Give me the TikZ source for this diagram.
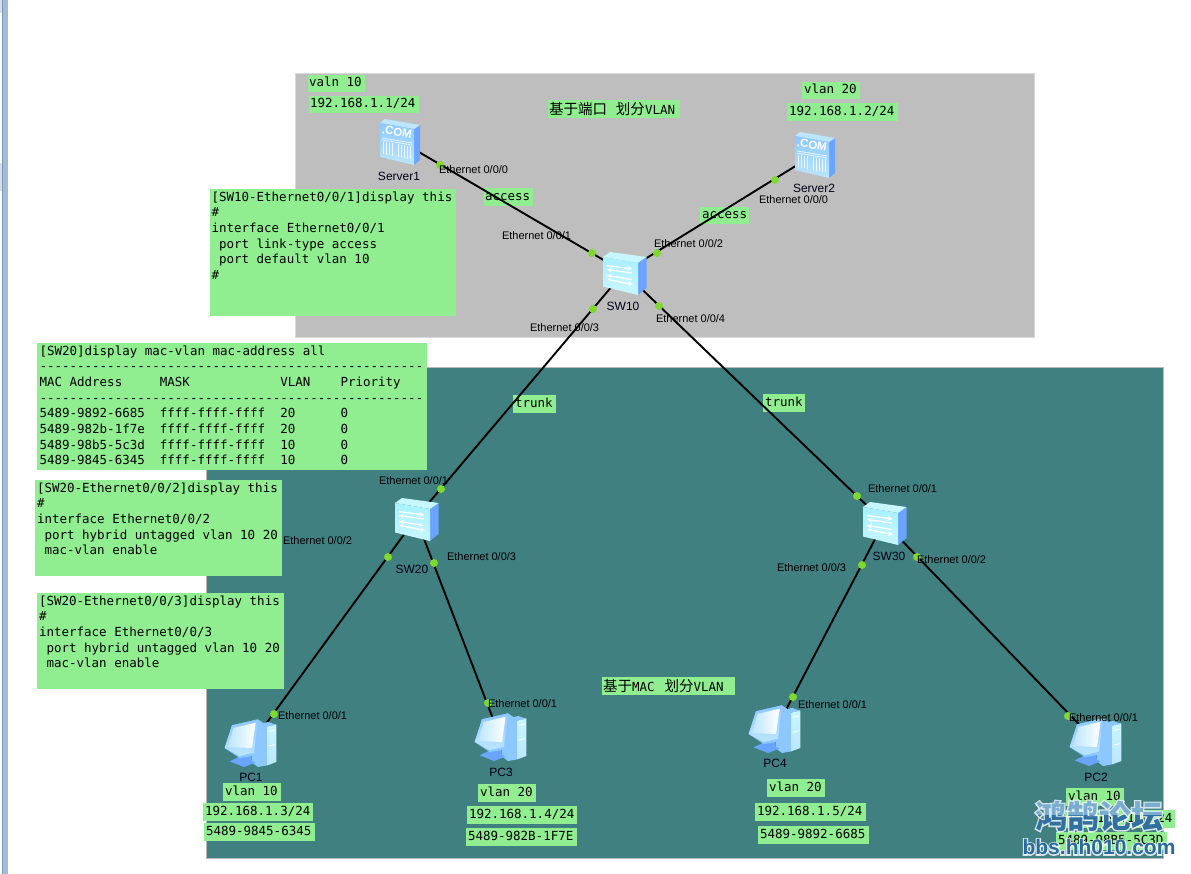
\documentclass[tikz,border=0pt]{standalone}
\usepackage{fontspec}
\usetikzlibrary{arrows.meta,shapes.geometric}
\setmainfont{Liberation Sans}
\newfontfamily\codefont{DejaVu Sans Mono}
\newfontfamily\cjkfont{Noto Sans CJK SC}
\newfontfamily\cjkhalo[BoldFeatures={FakeBold=8}]{Noto Sans CJK SC}
\newfontfamily\latinhalo[BoldFeatures={FakeBold=12}]{Liberation Sans}
\definecolor{tagfill}{HTML}{90EE90}
\definecolor{zoneport}{HTML}{BEBEBE}
\definecolor{zonemac}{HTML}{408080}
\definecolor{portgreen}{HTML}{7FD82F}
\definecolor{iconA}{HTML}{6AA4FF}
\definecolor{iconB}{HTML}{8CC8FF}
\definecolor{iconC}{HTML}{BCE6FF}
\definecolor{iconD}{HTML}{C8F6FF}
\definecolor{iconE}{HTML}{A8F0FF}
\definecolor{wmblue}{HTML}{2A6A9C}
\definecolor{wmlight}{HTML}{6FA6CF}
\definecolor{edgeblue}{HTML}{A0BCD8}
\definecolor{edgedark}{HTML}{8098B0}
\definecolor{edgepale}{HTML}{D4DEEA}

\tikzset{
  zone/.style={draw=#1,line width=1pt},
  tagbox/.style={fill=tagfill,draw=none,inner sep=0pt,outer sep=0pt},
  codeline/.style={inner sep=0pt,outer sep=0pt,text=black,
    font=\codefont\fontsize{12.5}{15.7}\selectfont,text height=9.5pt,text depth=2.5pt},
  codeblock/.style={inner sep=0pt,outer sep=0pt,text=black,align=left,
    font=\codefont\fontsize{12.5}{15.7}\selectfont},
  hanlabel/.style={inner sep=0pt,outer sep=0pt,text=black},
  portlabel/.style={inner sep=0pt,outer sep=0pt,anchor=west,text=black,
    font=\fontsize{11}{13}\selectfont},
  devlabel/.style={inner sep=0pt,outer sep=0pt,text=black!90!blue,
    font=\fontsize{12}{14}\selectfont},
  link/.style={draw=black,line width=1.9pt},
  portdot/.style={circle,fill=portgreen,draw=none,minimum size=8pt,inner sep=0pt},
  device/.style={inner sep=0pt,outer sep=0pt,minimum size=1pt},
  serverglyph/.pic={
    \fill[iconA] (14,-12) -- (20,-16) -- (20,19) -- (14,24) -- cycle;
    \fill[iconC] (-20,-18) -- (-15,-22) -- (20,-16) -- (14,-12) -- cycle;
    \shade[top color=iconB,bottom color=iconC] (-20,-18) -- (14,-12) -- (14,24) -- (-20,16) -- cycle;
    \draw[white,line width=.8pt,opacity=.75] (-18,-3) -- (12,2) (-18,-1) -- (12,4);
    \foreach \gx in {-17,-14,-11,-8,-2,1,4,7,10}
      \draw[white,line width=.9pt,opacity=.8] (\gx,{1+(\gx+17)*.16}) -- (\gx,{13+(\gx+17)*.2});
    \node[inner sep=0pt,rotate=-10,text=white,font=\bfseries\fontsize{11.5}{12}\selectfont] (-com) at (-3,-9) {.COM};
  },
  switchglyph/.pic={
    \fill[iconA] (14,-9) -- (22.5,-15) -- (22.5,16) -- (14,23) -- cycle;
    \fill[iconD] (-21,-15) -- (-14,-20) -- (22.5,-15) -- (14,-9) -- cycle;
    \shade[top color=iconE,bottom color=iconD] (-21,-15) -- (14,-9) -- (14,23) -- (-21,14.5) -- cycle;
    \draw[white,line width=1.3pt,-{Stealth[length=5pt,width=5pt]}] (-17,-6.5) -- (8.5,-3);
    \draw[white,line width=1.3pt,-{Stealth[length=5pt,width=5pt]}] (8,1) -- (-17,-2.5);
    \draw[white,line width=1.3pt,-{Stealth[length=5pt,width=5pt]}] (8,7.5) -- (-17,3.5);
    \draw[white,line width=1.3pt,-{Stealth[length=5pt,width=5pt]}] (-16,7.5) -- (9,12.5);
  },
  pcglyph/.pic={
    \begin{scope}[x=.3333pt,y=-.3333pt,shift={(-97.5,-93)}]
      \fill[iconB] (110,40) -- (150,30) -- (175,38) -- (148,44) -- (148,160) -- (120,165) -- (100,150) -- cycle;
      \shade[top color=iconD,bottom color=iconC] (148,44) -- (175,38) -- (175,150) -- (148,160) -- cycle;
      \draw[white,line width=.8pt] (152,58) -- (172,54) (152,102) -- (172,98);
      \fill[iconA] (65,130) -- (100,125) -- (100,150) -- (75,152) -- cycle;
      \fill[iconA] (35,148) -- (72,130) -- (112,152) -- (78,165) -- cycle;
      \fill[iconB] (42,40) -- (120,22) -- (135,32) -- (115,130) -- (65,138) -- (20,108) -- cycle;
      \shade[top color=iconB,bottom color=iconC] (42,40) -- (120,22) -- (108,122) -- (65,132) -- (20,108) -- cycle;
      \shade[left color=iconC,right color=white] (47,48) -- (113,32) -- (102,108) -- (30,105) -- cycle;
    \end{scope}
  },
}

% Filled tag with one line of monospace text: name, x0, y0, x1, y1, text offset, text
\newcommand{\cliptag}[7]{%
  \node[tagbox,minimum width={#4-#2},minimum height={#5-#3}] (#1) at ({(#2+#4)/2},{(#3+#5)/2}) {};
  \node[codeline,anchor=west,xshift=#6pt] (#1-text) at (#1.west) {#7};
}
% Filled panel with several lines of console output: name, x0, y0, x1, y1, text x, text y, lines
\newcommand{\console}[8]{%
  \node[tagbox,minimum width={#4-#2},minimum height={#5-#3}] (#1) at ({(#2+#4)/2},{(#3+#5)/2}) {};
  \node[codeblock,anchor=north west] (#1-text) at (#6,#7) {#8};
}
% Interface name beside a link end: name, x, y, text
\newcommand{\portname}[4]{\node[portlabel] (#1) at (#2,#3.8) {#4};}

\begin{document}
\begin{tikzpicture}[x=1pt,y=-1pt]
\useasboundingbox (0,0) rectangle (1191,874);
\fill[white] (0,0) rectangle (1191,874);

% window edge at the left
\fill[edgepale] (0,0) rectangle (2,13);
\fill[edgepale] (0,163) rectangle (2,191);
\fill[edgeblue] (2,0) rectangle (7.5,874);
\fill[edgedark] (2,0) rectangle (3,874);

% VLAN zones
\fill[zoneport,zone=black!15] (295.5,73.5) rectangle (1034.5,337.5);
\fill[zonemac,zone=black!28] (206,367.5) rectangle (1163,858);

% tags
\cliptag{vlanA}{308}{75}{365}{92}{1}{valn 10}
\cliptag{ipA}{309}{96}{419}{113}{1}{192.168.1.1/24}
\cliptag{vlanB}{802}{82}{860}{99}{2}{vlan 20}
\cliptag{ipB}{787}{103}{898}{121}{2}{192.168.1.2/24}
\cliptag{accessA}{484}{188}{533}{206}{1}{access}
\cliptag{accessB}{700}{207}{749}{224}{2}{access}
\cliptag{trunkA}{513}{395}{556}{413}{2}{trunk}
\cliptag{trunkB}{763}{394}{805}{412}{2}{trunk}

\node[tagbox,minimum width=132,minimum height=18] (titleA) at (614,109) {};
\node[hanlabel,anchor=west,xshift=1pt] (titleA-text) at (titleA.west)
  {\cjkfont\fontsize{14.5}{16}\selectfont 基于端口\hspace{9pt}划分\codefont\fontsize{12.5}{16}\selectfont VLAN};
\node[tagbox,minimum width=133,minimum height=18] (titleB) at (668.5,686) {};
\node[hanlabel,anchor=west,xshift=1pt] (titleB-text) at (titleB.west)
  {\cjkfont\fontsize{14.5}{16}\selectfont 基于\codefont\fontsize{12.5}{16}\selectfont MAC\hspace{10pt}\cjkfont\fontsize{14.5}{16}\selectfont 划分\codefont\fontsize{12.5}{16}\selectfont VLAN};

\cliptag{vlanC}{223}{783}{281}{801}{2}{vlan 10}
\cliptag{ipC}{203}{803}{313}{821}{2}{192.168.1.3/24}
\cliptag{macC}{204}{823}{315}{841}{2}{5489-9845-6345}
\cliptag{vlanD}{478}{784}{536}{802}{2}{vlan 20}
\cliptag{ipD}{467}{806}{577}{824}{2}{192.168.1.4/24}
\cliptag{macD}{466}{828}{577}{846}{2}{5489-982B-1F7E}
\cliptag{vlanE}{767}{779}{825}{797}{2}{vlan 20}
\cliptag{ipE}{755}{803}{866}{821}{2}{192.168.1.5/24}
\cliptag{macE}{758}{826}{869}{844}{2}{5489-9892-6685}
\cliptag{vlanF}{1066}{788}{1124}{806}{2}{vlan 10}
\cliptag{ipF}{1065}{810}{1175}{828}{2}{192.168.1.6/24}
\cliptag{macF}{1056}{832}{1167}{850}{2}{5489-98B5-5C3D}

% console output panels
\console{cfgSW10}{210}{189}{455.5}{316}{211.5}{191.5}{%
{[}SW10-Ethernet0/0/1]display this\\
\#\\
interface Ethernet0/0/1\\
~port link-type access\\
~port default vlan 10\\
\#}
\console{macTable}{37}{343}{427}{470}{39.5}{345.5}{%
{[}SW20]display mac-vlan mac-address all\\
---------------------------------------------------\\
MAC~Address~~~~~MASK~~~~~~~~~~~~VLAN~~~~Priority\\
---------------------------------------------------\\
5489-9892-6685~~ffff-ffff-ffff~~20~~~~~~0\\
5489-982b-1f7e~~ffff-ffff-ffff~~20~~~~~~0\\
5489-98b5-5c3d~~ffff-ffff-ffff~~10~~~~~~0\\
5489-9845-6345~~ffff-ffff-ffff~~10~~~~~~0}
\console{cfgPortA}{35}{480}{282}{576}{37}{482.5}{%
{[}SW20-Ethernet0/0/2]display this\\
\#\\
interface Ethernet0/0/2\\
~port hybrid untagged vlan 10 20\\
~mac-vlan enable}
\console{cfgPortB}{37}{593}{284}{689}{39}{595.5}{%
{[}SW20-Ethernet0/0/3]display this\\
\#\\
interface Ethernet0/0/3\\
~port hybrid untagged vlan 10 20\\
~mac-vlan enable}

% devices
\node[device] (Server1) at (400,141) {};
\node[device] (Server2) at (815,154) {};
\node[device] (SW10) at (624,272) {};
\node[device] (SW20) at (416,518) {};
\node[device] (SW30) at (884,522) {};
\node[device] (PC1) at (252,743) {};
\node[device] (PC3) at (500,737) {};
\node[device] (PC4) at (776,729) {};
\node[device] (PC2) at (1096,742) {};

% links
\draw[link] (Server1.center) -- (SW10.center);
\draw[link] (Server2.center) -- (SW10.center);
\draw[link] (SW10.center) -- (SW20.center);
\draw[link] (SW10.center) -- (SW30.center);
\draw[link] (SW20.center) -- (PC1.center);
\draw[link] (SW20.center) -- (PC3.center);
\draw[link] (SW30.center) -- (PC4.center);
\draw[link] (SW30.center) -- (PC2.center);

% port markers
\node[portdot] (dotA) at (440,165) {};
\node[portdot] (dotB) at (592,253) {};
\node[portdot] (dotC) at (775,180) {};
\node[portdot] (dotD) at (657,253) {};
\node[portdot] (dotE) at (593,309) {};
\node[portdot] (dotF) at (659,306) {};
\node[portdot] (dotG) at (441,489) {};
\node[portdot] (dotH) at (388,557) {};
\node[portdot] (dotI) at (434,563) {};
\node[portdot] (dotJ) at (274,714) {};
\node[portdot] (dotK) at (488,703) {};
\node[portdot] (dotL) at (857,496) {};
\node[portdot] (dotM) at (862,565) {};
\node[portdot] (dotN) at (917,557) {};
\node[portdot] (dotO) at (793,697) {};
\node[portdot] (dotP) at (1068,716) {};

% device icons
\pic (iconS1) at (Server1) {serverglyph};
\pic (iconS2) at (Server2) {serverglyph};
\pic (iconSW10) at (SW10) {switchglyph};
\pic (iconSW20) at (416,518) {switchglyph};
\pic (iconSW30) at (884,522) {switchglyph};
\pic (iconPC1) at (250.5,743) {pcglyph};
\pic (iconPC3) at (500.5,737) {pcglyph};
\pic (iconPC4) at (774.5,729) {pcglyph};
\pic (iconPC2) at (1095.5,742) {pcglyph};

% device names
\node[devlabel] (nameS1) at (399,176) {Server1};
\node[devlabel] (nameS2) at (814,188) {Server2};
\node[devlabel] (nameSW10) at (623,306) {SW10};
\node[devlabel] (nameSW20) at (412,569) {SW20};
\node[devlabel] (nameSW30) at (889,556) {SW30};
\node[devlabel] (namePC1) at (251,777) {PC1};
\node[devlabel] (namePC3) at (501,772) {PC3};
\node[devlabel] (namePC4) at (775,763) {PC4};
\node[devlabel] (namePC2) at (1096,777) {PC2};

% port names
\portname{pA}{439}{169}{Ethernet 0/0/0}
\portname{pB}{502}{235}{Ethernet 0/0/1}
\portname{pC}{530}{327}{Ethernet 0/0/3}
\portname{pD}{759}{199}{Ethernet 0/0/0}
\portname{pE}{654}{243}{Ethernet 0/0/2}
\portname{pF}{656}{318}{Ethernet 0/0/4}
\portname{pG}{379}{480}{Ethernet 0/0/1}
\portname{pH}{283}{540}{Ethernet 0/0/2}
\portname{pI}{447}{556}{Ethernet 0/0/3}
\portname{pJ}{278}{715}{Ethernet 0/0/1}
\portname{pK}{488}{703}{Ethernet 0/0/1}
\portname{pL}{868}{488}{Ethernet 0/0/1}
\portname{pM}{917}{559}{Ethernet 0/0/2}
\portname{pN}{777}{567}{Ethernet 0/0/3}
\portname{pO}{798}{704}{Ethernet 0/0/1}
\portname{pP}{1069}{717}{Ethernet 0/0/1}

% forum mark in the corner: a fattened pale copy behind each line gives the outline
\node[inner sep=0pt,text=white,text opacity=.8,font=\cjkhalo\bfseries\fontsize{32}{34}\selectfont] (haloA) at (1099,816) {鸿鹄论坛};
\node[inner sep=0pt,text=white,text opacity=.8,font=\latinhalo\bfseries\fontsize{21}{24}\selectfont] (haloB) at (1099,847) {bbs.hh010.com};
\node[inner sep=0pt,text=wmlight,text opacity=.9,font=\cjkfont\bfseries\fontsize{32}{34}\selectfont] (markA) at (1099,816) {鸿鹄论坛};
\begin{scope}
  \clip (1030,815) rectangle (1170,834);
  \node[inner sep=0pt,text=wmblue,text opacity=.9,font=\cjkfont\bfseries\fontsize{32}{34}\selectfont] (markC) at (1099,816) {鸿鹄论坛};
\end{scope}
\node[inner sep=0pt,text=wmblue,font=\bfseries\fontsize{21}{24}\selectfont] (markB) at (1099,847) {bbs.hh010.com};
\end{tikzpicture}
\end{document}
